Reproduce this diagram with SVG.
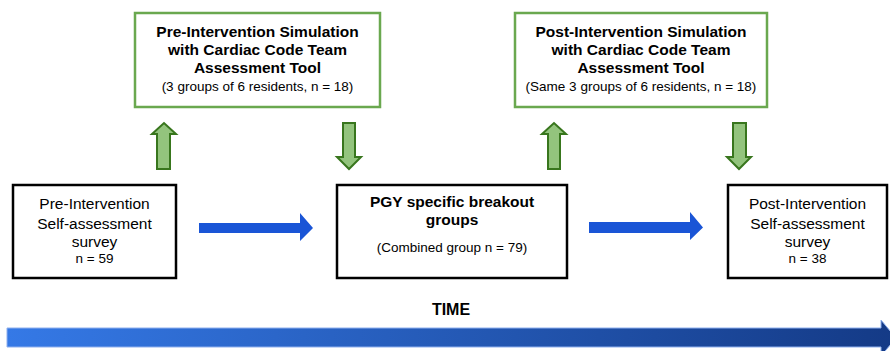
<svg xmlns="http://www.w3.org/2000/svg" width="890" height="351" viewBox="0 0 890 351">
<style>
text{font-family:"Liberation Sans",Arial,sans-serif;fill:#000;text-anchor:middle}
.b{font-weight:bold;font-size:15.5px}
.r{font-size:15.5px}
.s{font-size:13.5px}
.gbox{fill:#fff;stroke:#6aa84f;stroke-width:2.5}
.kbox{fill:#fff;stroke:#000;stroke-width:2.5}
.garrow{fill:#93c47d;stroke:#38761d;stroke-width:2;stroke-linejoin:miter}
.barrow{fill:#1a55d6}
</style>
<defs>
<linearGradient id="tg" x1="0" y1="0" x2="1" y2="0">
<stop offset="0" stop-color="#3579e6"/>
<stop offset="1" stop-color="#143a86"/>
</linearGradient>
</defs>
<g id="pre-sim">
<rect class="gbox" x="135" y="13" width="245" height="94"/>
<text class="b" x="257.5" y="37">Pre-Intervention Simulation</text>
<text class="b" x="257.5" y="55">with Cardiac Code Team</text>
<text class="b" x="257.5" y="73">Assessment Tool</text>
<text class="s" x="257.5" y="91">(3 groups of 6 residents, n = 18)</text>
</g>
<g id="post-sim">
<rect class="gbox" x="515" y="13" width="252" height="94"/>
<text class="b" x="641" y="37">Post-Intervention Simulation</text>
<text class="b" x="641" y="55">with Cardiac Code Team</text>
<text class="b" x="641" y="73">Assessment Tool</text>
<text class="s" x="641" y="91">(Same 3 groups of 6 residents, n = 18)</text>
</g>
<g id="pre-survey">
<rect class="kbox" x="13" y="185" width="163" height="93"/>
<text class="r" x="94.5" y="209">Pre-Intervention</text>
<text class="r" x="94.5" y="229">Self-assessment</text>
<text class="r" x="94.5" y="247">survey</text>
<text class="s" x="94.5" y="263">n = 59</text>
</g>
<g id="breakout">
<rect class="kbox" x="337" y="185" width="230" height="93"/>
<text class="b" x="452" y="207">PGY specific breakout</text>
<text class="b" x="452" y="225">groups</text>
<text class="s" x="452" y="252">(Combined group n = 79)</text>
</g>
<g id="post-survey">
<rect class="kbox" x="728" y="185" width="159" height="93"/>
<text class="r" x="807.5" y="209">Post-Intervention</text>
<text class="r" x="807.5" y="229">Self-assessment</text>
<text class="r" x="807.5" y="247">survey</text>
<text class="s" x="807.5" y="263">n = 38</text>
</g>
<g id="connectors">
<polygon class="garrow" points="157,169 157,134 152,134 164,123 176,134 170,134 170,169"/>
<polygon class="garrow" points="343,123 355,123 355,157 361,157 349,169 337,157 343,157"/>
<polygon class="garrow" points="548,169 548,134 542,134 554,123 566,134 560,134 560,169"/>
<polygon class="garrow" points="733,123 746,123 746,157 751,157 739,169 727,157 733,157"/>
<polygon class="barrow" points="199,223 300,223 300,213 313,228 300,241 300,233 199,233"/>
<polygon class="barrow" points="589,222 690,222 690,212 703,227.5 690,240 690,233 589,233"/>
</g>
<g id="time">
<text x="451" y="315" style="font-weight:bold;font-size:16px">TIME</text>
<polygon points="7,328 881,328 881,320 896,338 881,356 881,347 7,347" fill="url(#tg)" stroke="#8fb0ee" stroke-width="1"/>
</g>
</svg>
